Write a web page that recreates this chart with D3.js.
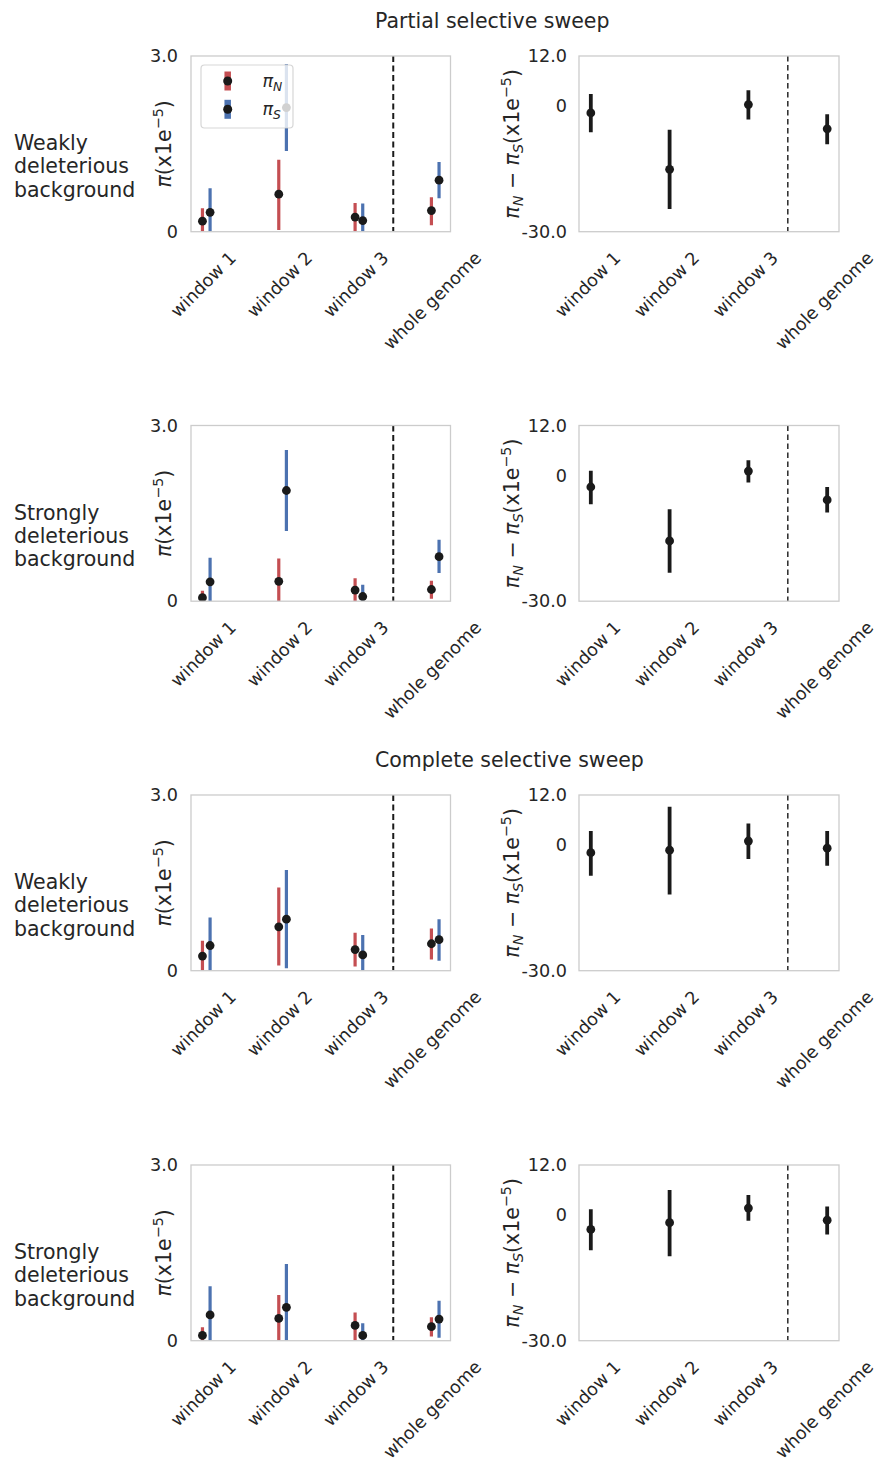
<!DOCTYPE html>
<html><head><meta charset="utf-8">
<script src="https://cdn.jsdelivr.net/npm/d3@7"></script>
<style>
body{margin:0;background:#fff}
text{font-family:"DejaVu Sans",sans-serif;fill:#262626}
</style>
</head><body>
<svg id="c" width="882" height="1463"></svg>
<script>
// ---------------- data ----------------
const categories = ["window 1", "window 2", "window 3", "whole genome"];
const piTicks = [0, 3.0];
const piTickLabels = ["0", "3.0"];
const diffTicks = [-30, 0, 12];
const diffTickLabels = ["-30.0", "0", "12.0"];
const sectionTitles = ["Partial selective sweep", "Complete selective sweep"];
const rowLabels = [
  ["Weakly", "deleterious", "background"],
  ["Strongly", "deleterious", "background"],
  ["Weakly", "deleterious", "background"],
  ["Strongly", "deleterious", "background"]
];
const legendLabels = ["N", "S"];

// each entry: [mean, lower, upper]  (units x1e-5)
const partialWeak_piN = [[0.18, 0, 0.40], [0.64, 0.03, 1.23], [0.25, 0, 0.49], [0.36, 0.11, 0.59]];
const partialWeak_piS = [[0.33, 0, 0.74], [2.12, 1.38, 2.86], [0.19, 0, 0.48], [0.88, 0.57, 1.19]];
const partialWeak_diff = [[-1.6, -6.2, 2.9], [-15.1, -24.6, -5.6], [0.4, -3.2, 3.8], [-5.4, -9.1, -1.9]];

const partialStrong_piN = [[0.06, 0, 0.18], [0.34, 0, 0.73], [0.19, 0, 0.39], [0.20, 0.04, 0.35]];
const partialStrong_piS = [[0.33, 0, 0.74], [1.89, 1.20, 2.58], [0.08, 0, 0.28], [0.76, 0.48, 1.05]];
const partialStrong_diff = [[-2.7, -6.8, 1.2], [-15.6, -23.2, -8.0], [1.1, -1.6, 3.7], [-5.8, -8.8, -2.7]];

const completeWeak_piN = [[0.25, 0, 0.51], [0.75, 0.09, 1.42], [0.36, 0.07, 0.65], [0.46, 0.19, 0.72]];
const completeWeak_piS = [[0.43, 0, 0.91], [0.88, 0.04, 1.72], [0.27, 0, 0.61], [0.53, 0.17, 0.88]];
const completeWeak_diff = [[-1.8, -7.3, 3.4], [-1.2, -11.8, 9.2], [1.0, -3.3, 5.2], [-0.7, -4.9, 3.4]];

const completeStrong_piN = [[0.09, 0, 0.23], [0.38, 0, 0.78], [0.26, 0, 0.48], [0.24, 0.07, 0.40]];
const completeStrong_piS = [[0.44, 0, 0.93], [0.57, 0, 1.31], [0.09, 0, 0.30], [0.37, 0.05, 0.68]];
const completeStrong_diff = [[-3.4, -8.4, 1.4], [-1.8, -9.8, 6.0], [1.7, -1.3, 4.8], [-1.2, -4.6, 2.1]];

// ---------------- layout ----------------
const RED = "#c44e52", BLUE = "#4c72b0", DOT = "#1a1a1a", SPINE = "#cccccc";
const TICK_FS = 17.6, LABEL_FS = 20.5;
const rowTops = [56, 425.5, 795, 1165];
const panelH = 175.7;
const leftX = [191, 450.5], rightX = [579, 839];
const piDomainX = [-0.2, 3.2], diffDomainX = [-0.15, 3.15];
const dividerLeft = 2.45, dividerRight = 2.5;
const dodge = 0.05;

const svg = d3.select("#c");

const rows = [
  {piN: partialWeak_piN, piS: partialWeak_piS, diff: partialWeak_diff, legend: true},
  {piN: partialStrong_piN, piS: partialStrong_piS, diff: partialStrong_diff, legend: false},
  {piN: completeWeak_piN, piS: completeWeak_piS, diff: completeWeak_diff, legend: false},
  {piN: completeStrong_piN, piS: completeStrong_piS, diff: completeStrong_diff, legend: false}
];

// section titles
svg.append("text").attr("x", 375).attr("y", 27.5).attr("font-size", LABEL_FS).text(sectionTitles[0]);
svg.append("text").attr("x", 375).attr("y", 766.5).attr("font-size", LABEL_FS).text(sectionTitles[1]);

function addXLabels(g, x, bottom) {
  categories.forEach((c, i) => {
    const t = g.append("text").attr("font-size", TICK_FS).attr("text-anchor", "middle")
      .attr("dy", "0.35em").text(c);
    const L = t.node().getComputedTextLength();
    const cx = x(i) - 3, cy = bottom + 23 + L / (2 * Math.SQRT2);
    t.attr("x", cx).attr("y", cy).attr("transform", `rotate(-45,${cx},${cy})`);
  });
}

function frame(g, x0, x1, top, bottom, id) {
  g.append("clipPath").attr("id", id).append("rect")
    .attr("x", x0).attr("y", top).attr("width", x1 - x0).attr("height", bottom - top);
}

rows.forEach((r, ri) => {
  const top = rowTops[ri], bottom = top + panelH;
  const g = svg.append("g");

  // row label
  rowLabels[ri].forEach((s, li) => {
    g.append("text").attr("x", 14).attr("y", (top + bottom) / 2 + 29.6 + (li - 1) * 23.4)
      .attr("font-size", LABEL_FS).text(s);
  });

  // ---------- left panel: pi ----------
  const x = d3.scaleLinear().domain(piDomainX).range(leftX);
  const y = d3.scaleLinear().domain([0, 3]).range([bottom, top]);
  const cid = "clipL" + ri;
  frame(g, leftX[0], leftX[1], top, bottom, cid);
  const pl = g.append("g").attr("clip-path", `url(#${cid})`);

  pl.append("line").attr("x1", x(dividerLeft)).attr("x2", x(dividerLeft))
    .attr("y1", top).attr("y2", bottom).attr("stroke", "#1a1a1a")
    .attr("stroke-width", 2).attr("stroke-dasharray", "6,3.5");

  [[r.piN, RED, -dodge], [r.piS, BLUE, dodge]].forEach(([data, col, off]) => {
    pl.selectAll(null).data(data).enter().append("line")
      .attr("x1", (d, i) => x(i + off)).attr("x2", (d, i) => x(i + off))
      .attr("y1", d => y(d[1])).attr("y2", d => y(d[2]))
      .attr("stroke", col).attr("stroke-width", 3.2);
    pl.selectAll(null).data(data).enter().append("circle")
      .attr("cx", (d, i) => x(i + off)).attr("cy", d => y(d[0]))
      .attr("r", 4.4).attr("fill", DOT);
  });

  g.append("rect").attr("x", leftX[0]).attr("y", top).attr("width", leftX[1] - leftX[0])
    .attr("height", panelH).attr("fill", "none").attr("stroke", SPINE).attr("stroke-width", 1.3);

  piTicks.forEach((v, i) => {
    g.append("text").attr("x", 178).attr("y", y(v)).attr("dy", "0.35em")
      .attr("text-anchor", "end").attr("font-size", TICK_FS).text(piTickLabels[i]);
  });

  // y label
  const lyc = (top + bottom) / 2;
  const yl = g.append("text").attr("font-size", LABEL_FS).attr("text-anchor", "middle")
    .attr("transform", `translate(171,${lyc}) rotate(-90)`);
  yl.append("tspan").attr("font-style", "italic").text("π");
  yl.append("tspan").text("(x1e");
  yl.append("tspan").attr("font-size", LABEL_FS * 0.7).attr("dy", -8).text("−5");
  yl.append("tspan").attr("dy", 8).text(")");

  addXLabels(g, x, bottom);

  // legend
  if (r.legend) {
    const lg = g.append("g");
    lg.append("rect").attr("x", 201).attr("y", 65).attr("width", 92).attr("height", 63)
      .attr("rx", 3.5).attr("fill", "#fff").attr("fill-opacity", 0.8)
      .attr("stroke", SPINE).attr("stroke-opacity", 0.8).attr("stroke-width", 1.2);
    [RED, BLUE].forEach((col, i) => {
      const cy = 81 + i * 28.3;
      lg.append("line").attr("x1", 227.7).attr("x2", 227.7).attr("y1", cy - 9.5).attr("y2", cy + 9.5)
        .attr("stroke", col).attr("stroke-width", 6.5);
      lg.append("circle").attr("cx", 227.7).attr("cy", cy).attr("r", 4.5).attr("fill", DOT);
      const t = lg.append("text").attr("x", 262.5).attr("y", cy + 6).attr("font-size", TICK_FS);
      t.append("tspan").attr("font-style", "italic").text("π");
      t.append("tspan").attr("font-style", "italic").attr("font-size", TICK_FS * 0.7).attr("dy", 3.5).text(legendLabels[i]);
    });
  }

  // ---------- right panel: diff ----------
  const x2 = d3.scaleLinear().domain(diffDomainX).range(rightX);
  const y2 = d3.scaleLinear().domain([-30, 12]).range([bottom, top]);
  const cid2 = "clipR" + ri;
  frame(g, rightX[0], rightX[1], top, bottom, cid2);
  const pr = g.append("g").attr("clip-path", `url(#${cid2})`);

  pr.append("line").attr("x1", x2(dividerRight)).attr("x2", x2(dividerRight))
    .attr("y1", top).attr("y2", bottom).attr("stroke", "#333")
    .attr("stroke-width", 1.6).attr("stroke-dasharray", "5.5,3.5");

  pr.selectAll(null).data(r.diff).enter().append("line")
    .attr("x1", (d, i) => x2(i)).attr("x2", (d, i) => x2(i))
    .attr("y1", d => y2(d[1])).attr("y2", d => y2(d[2]))
    .attr("stroke", DOT).attr("stroke-width", 3.8);
  pr.selectAll(null).data(r.diff).enter().append("circle")
    .attr("cx", (d, i) => x2(i)).attr("cy", d => y2(d[0]))
    .attr("r", 4.4).attr("fill", DOT);

  g.append("rect").attr("x", rightX[0]).attr("y", top).attr("width", rightX[1] - rightX[0])
    .attr("height", panelH).attr("fill", "none").attr("stroke", SPINE).attr("stroke-width", 1.3);

  diffTicks.forEach((v, i) => {
    g.append("text").attr("x", 567).attr("y", y2(v)).attr("dy", "0.35em")
      .attr("text-anchor", "end").attr("font-size", TICK_FS).text(diffTickLabels[i]);
  });

  const yr = g.append("text").attr("font-size", LABEL_FS).attr("text-anchor", "middle")
    .attr("transform", `translate(519,${lyc}) rotate(-90)`);
  yr.append("tspan").attr("font-style", "italic").text("π");
  yr.append("tspan").attr("font-style", "italic").attr("font-size", LABEL_FS * 0.7).attr("dy", 4).text("N");
  yr.append("tspan").attr("dy", -4).text(" − ");
  yr.append("tspan").attr("font-style", "italic").text("π");
  yr.append("tspan").attr("font-style", "italic").attr("font-size", LABEL_FS * 0.7).attr("dy", 4).text("S");
  yr.append("tspan").attr("dy", -4).text("(x1e");
  yr.append("tspan").attr("font-size", LABEL_FS * 0.7).attr("dy", -8).text("−5");
  yr.append("tspan").attr("dy", 8).text(")");

  addXLabels(g, x2, bottom);
});
</script>
</body></html>
